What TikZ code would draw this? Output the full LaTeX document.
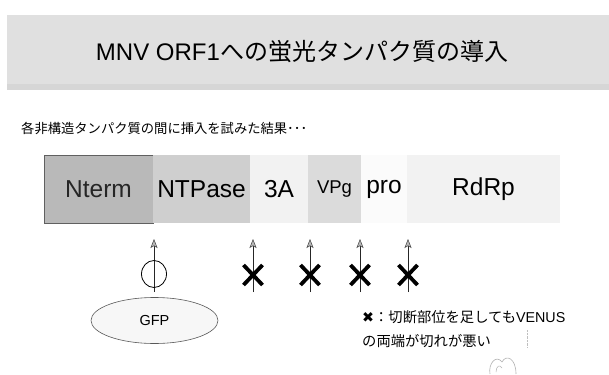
\documentclass[tikz,border=0pt]{standalone}
\usepackage{fontspec}
\setmainfont{Liberation Sans}
\newfontfamily\jp{Noto Sans CJK JP}
\newfontfamily\dejavu{DejaVu Sans}
\usetikzlibrary{arrows.meta,shapes.geometric}
\begin{document}
\begin{tikzpicture}[x=1pt,y=-1pt,
  seg/.style={minimum height=68pt, inner sep=0pt, outer sep=0pt, font=\fontsize{24.5}{26}\selectfont, anchor=center},
  probe/.style={draw=black!85, line width=0.9pt, -{Stealth[length=9pt,width=7pt,inset=2pt,color=black!75,fill=gray!55,line width=0.5pt]}},
  bad/.style={line width=3.8pt, black},
  jptext/.style={font=\jp\fontsize{13.3}{15}\selectfont, inner sep=0pt, anchor=west},
  notetext/.style={font=\jp\fontsize{14.3}{16}\selectfont, inner sep=0pt, anchor=west}
]
\useasboundingbox (0,0) rectangle (609,374);
\fill[white] (0,0) rectangle (609,374);
% title band
\fill[gray!24] (7,15) rectangle (609,90);
\fill[gray!32] (7,84) rectangle (609,90);
\node[inner sep=0pt] (title) at (302,52) {\fontsize{24}{26}\selectfont MNV ORF1{\jp への蛍光タンパク質の導入}};
% subtitle
\node[jptext] (sub) at (21,128) {各非構造タンパク質の間に挿入を試みた結果･･･};
% segments
\node[seg, fill=gray!55, draw=gray!75!black, line width=0.4pt, minimum width=109pt] (nterm) at (98.5,189) {\color{black!85}Nterm};
\node[seg, fill=gray!38, minimum width=97pt] (ntpase) at (201.5,189) {NTPase};
\node[seg, fill=gray!10, minimum width=58pt] (a3) at (279,189) {3A};
\node[seg, fill=gray!28, minimum width=53pt, font=\fontsize{18.5}{20}\selectfont] (vpg) at (334.5,189) {VPg};
\node[seg, fill=gray!3, minimum width=46pt] (pro) at (384,189) {pro};
\node[seg, fill=gray!10, minimum width=153pt] (rdrp) at (483.5,189) {RdRp};
% arrows
\foreach \i/\x in {1/154,2/253,3/310,4/360,5/408}{
  \coordinate (b\i) at (\x,292);
  \coordinate (t\i) at (\x,239);
  \draw[probe] (b\i) -- (t\i);
}
% success marker
\draw[line width=0.8pt] (154,274) ellipse [x radius=12.5, y radius=13.5];
% failure marks
\foreach \x in {253,310,360,408}{
  \draw[bad] (\x-9.5,265) -- (\x+9.5,285);
  \draw[bad] (\x+9.5,265) -- (\x-9.5,285);
}
% GFP
\node[draw=black!65, line width=0.6pt, fill=gray!6, ellipse, minimum width=127pt, minimum height=46pt, inner sep=0pt, font=\fontsize{14.5}{16}\selectfont] (gfp) at (154.5,320.5) {GFP};
% note
\node[notetext] (note1) at (362,317) {{\dejavu ✖}：切断部位を足しても{\fontspec{Liberation Sans}VENUS}};
\node[notetext] (note2) at (362,341) {の両端が切れが悪い};
% faint doodle
\draw[gray!60, line width=0.6pt] (490,374) .. controls (488,364) and (496,354) .. (502,362) .. controls (506,354) and (516,358) .. (516,374);
\draw[gray!60, line width=0.5pt] (496,372) .. controls (496,366) and (500,364) .. (502,368);
\draw[gray!50, densely dotted, line width=0.4pt] (527,330) -- (527,347);
\end{tikzpicture}
\end{document}
